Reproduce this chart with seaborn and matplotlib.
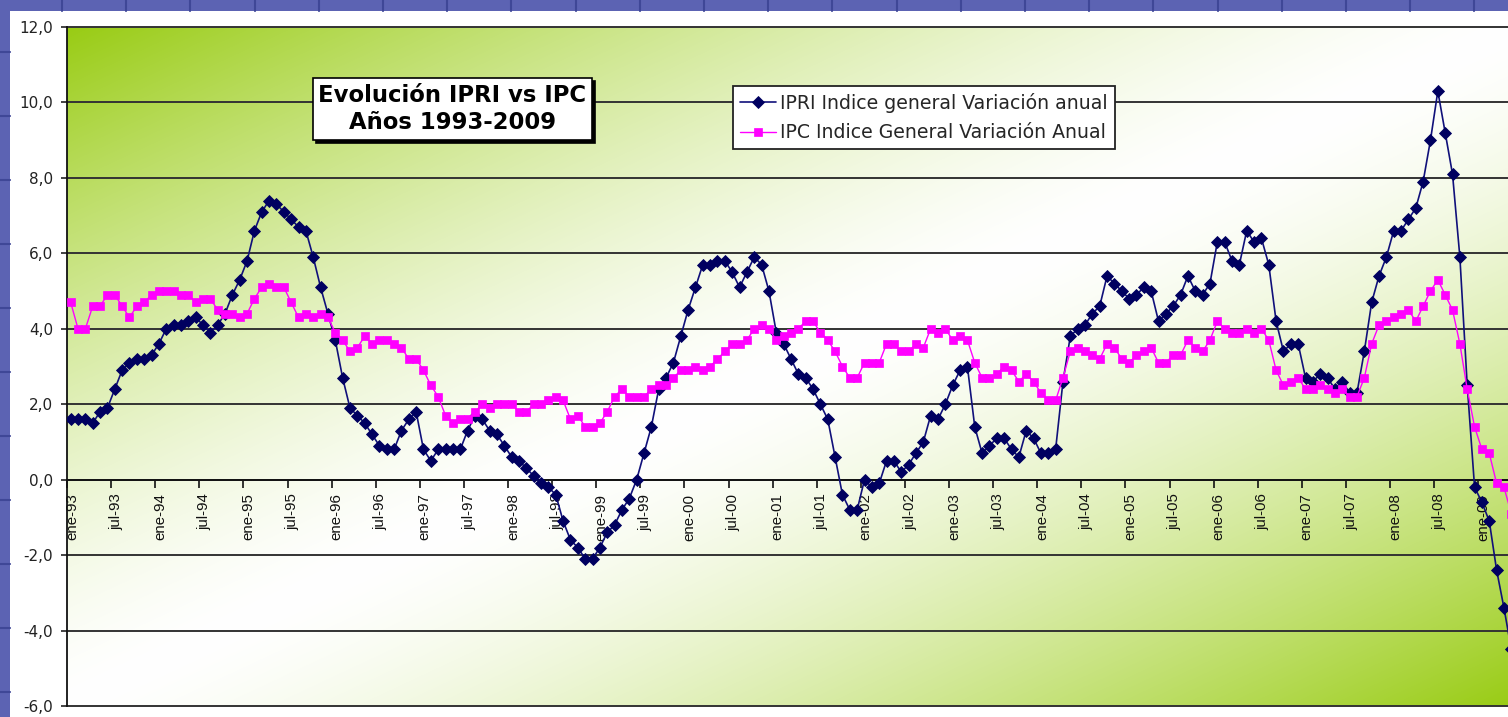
import numpy as np
import pandas as pd
import matplotlib as mpl
mpl.use('Agg')
import matplotlib.pyplot as plt
from matplotlib import transforms
from matplotlib.patches import Rectangle
from matplotlib.lines import Line2D
from matplotlib.ticker import FuncFormatter
import seaborn as sns

### monthly data, ene-93 .. may-09, one line per year
ipri = [
    1.6, 1.6, 1.6, 1.5, 1.8, 1.9, 2.4, 2.9, 3.1, 3.2, 3.2, 3.3,
    3.6, 4.0, 4.1, 4.1, 4.2, 4.3, 4.1, 3.9, 4.1, 4.4, 4.9, 5.3,
    5.8, 6.6, 7.1, 7.4, 7.3, 7.1, 6.9, 6.7, 6.6, 5.9, 5.1, 4.4,
    3.7, 2.7, 1.9, 1.7, 1.5, 1.2, 0.9, 0.8, 0.8, 1.3, 1.6, 1.8,
    0.8, 0.5, 0.8, 0.8, 0.8, 0.8, 1.3, 1.7, 1.6, 1.3, 1.2, 0.9,
    0.6, 0.5, 0.3, 0.1, -0.1, -0.2, -0.4, -1.1, -1.6, -1.8, -2.1, -2.1,
    -1.8, -1.4, -1.2, -0.8, -0.5, 0.0, 0.7, 1.4, 2.4, 2.7, 3.1, 3.8,
    4.5, 5.1, 5.7, 5.7, 5.8, 5.8, 5.5, 5.1, 5.5, 5.9, 5.7, 5.0,
    3.9, 3.6, 3.2, 2.8, 2.7, 2.4, 2.0, 1.6, 0.6, -0.4, -0.8, -0.8,
    0.0, -0.2, -0.1, 0.5, 0.5, 0.2, 0.4, 0.7, 1.0, 1.7, 1.6, 2.0,
    2.5, 2.9, 3.0, 1.4, 0.7, 0.9, 1.1, 1.1, 0.8, 0.6, 1.3, 1.1,
    0.7, 0.7, 0.8, 2.6, 3.8, 4.0, 4.1, 4.4, 4.6, 5.4, 5.2, 5.0,
    4.8, 4.9, 5.1, 5.0, 4.2, 4.4, 4.6, 4.9, 5.4, 5.0, 4.9, 5.2,
    6.3, 6.3, 5.8, 5.7, 6.6, 6.3, 6.4, 5.7, 4.2, 3.4, 3.6, 3.6,
    2.7, 2.6, 2.8, 2.7, 2.4, 2.6, 2.3, 2.3, 3.4, 4.7, 5.4, 5.9,
    6.6, 6.6, 6.9, 7.2, 7.9, 9.0, 10.3, 9.2, 8.1, 5.9, 2.5, -0.2,
    -0.6, -1.1, -2.4, -3.4, -4.5,
]
ipc = [
    4.7, 4.0, 4.0, 4.6, 4.6, 4.9, 4.9, 4.6, 4.3, 4.6, 4.7, 4.9,
    5.0, 5.0, 5.0, 4.9, 4.9, 4.7, 4.8, 4.8, 4.5, 4.4, 4.4, 4.3,
    4.4, 4.8, 5.1, 5.2, 5.1, 5.1, 4.7, 4.3, 4.4, 4.3, 4.4, 4.3,
    3.9, 3.7, 3.4, 3.5, 3.8, 3.6, 3.7, 3.7, 3.6, 3.5, 3.2, 3.2,
    2.9, 2.5, 2.2, 1.7, 1.5, 1.6, 1.6, 1.8, 2.0, 1.9, 2.0, 2.0,
    2.0, 1.8, 1.8, 2.0, 2.0, 2.1, 2.2, 2.1, 1.6, 1.7, 1.4, 1.4,
    1.5, 1.8, 2.2, 2.4, 2.2, 2.2, 2.2, 2.4, 2.5, 2.5, 2.7, 2.9,
    2.9, 3.0, 2.9, 3.0, 3.2, 3.4, 3.6, 3.6, 3.7, 4.0, 4.1, 4.0,
    3.7, 3.8, 3.9, 4.0, 4.2, 4.2, 3.9, 3.7, 3.4, 3.0, 2.7, 2.7,
    3.1, 3.1, 3.1, 3.6, 3.6, 3.4, 3.4, 3.6, 3.5, 4.0, 3.9, 4.0,
    3.7, 3.8, 3.7, 3.1, 2.7, 2.7, 2.8, 3.0, 2.9, 2.6, 2.8, 2.6,
    2.3, 2.1, 2.1, 2.7, 3.4, 3.5, 3.4, 3.3, 3.2, 3.6, 3.5, 3.2,
    3.1, 3.3, 3.4, 3.5, 3.1, 3.1, 3.3, 3.3, 3.7, 3.5, 3.4, 3.7,
    4.2, 4.0, 3.9, 3.9, 4.0, 3.9, 4.0, 3.7, 2.9, 2.5, 2.6, 2.7,
    2.4, 2.4, 2.5, 2.4, 2.3, 2.4, 2.2, 2.2, 2.7, 3.6, 4.1, 4.2,
    4.3, 4.4, 4.5, 4.2, 4.6, 5.0, 5.3, 4.9, 4.5, 3.6, 2.4, 1.4,
    0.8, 0.7, -0.1, -0.2, -0.9,
]
years = list(range(1993, 2010))
half_year_names = ['ene', 'jul']
ipri_label = 'IPRI Indice general Variación anual'
ipc_label = 'IPC Indice General Variación Anual'
title = 'Evolución IPRI vs IPC\nAños 1993-2009'
y_ticks = [-6, -4, -2, 0, 2, 4, 6, 8, 10, 12]

W, H = 1508, 717

def green_gradient(ax, green=(0.60, 0.80, 0.08)):
    # excel style diagonal fill: green corners, white middle
    u = np.linspace(0, 1, 400)[None, :]
    v = np.linspace(0, 1, 200)[:, None]
    w = np.clip(np.abs(u + v - 1.0), 0, 1) ** 1.45
    w = w[..., None]
    img = (1 - w) * np.ones(3) + w * np.array(green)
    ax.imshow(img, extent=(0, 1, 0, 1), transform=ax.transAxes,
              aspect='auto', zorder=0, interpolation='bilinear')


def main():
    df = pd.DataFrame({'pos': np.arange(len(ipri)) + 0.5, 'ipri': ipri, 'ipc': ipc})
    n_cat = len(df)

    sns.set_style('white')
    plt.rcParams['font.family'] = ['DejaVu Sans']

    fig = plt.figure(figsize=(W / 100, H / 100), dpi=100)
    fig.patch.set_facecolor('#5c63b3')
    # white chart area + the slide grid in the blue strips
    fig.add_artist(Rectangle((10 / W, 0), 1, (H - 11) / H, transform=fig.transFigure,
                             facecolor='white', edgecolor='none', zorder=-2))
    for x in np.arange(62, W, 64.2):
        fig.add_artist(Line2D([x / W, x / W], [(H - 11) / H, 1], transform=fig.transFigure,
                              color='#3f4797', lw=1.5, zorder=-1))
    for y in np.arange(52, H, 64):
        fig.add_artist(Line2D([0, 10 / W], [1 - y / H, 1 - y / H], transform=fig.transFigure,
                              color='#3f4797', lw=1.5, zorder=-1))

    ax = fig.add_axes([67 / W, 11 / H, 1448 / W, 679 / H])
    green_gradient(ax)

    sns.lineplot(data=df, x='pos', y='ipri', ax=ax, color='#10107a', linewidth=1.2,
                 marker='D', markersize=6.3, markeredgewidth=0.6, markeredgecolor='#000060',
                 markerfacecolor='#000060', label=ipri_label, zorder=3)
    sns.lineplot(data=df, x='pos', y='ipc', ax=ax, color='#ff00ff', linewidth=1.0,
                 marker='s', markersize=5.2, markeredgewidth=0.5, markeredgecolor='#ff00ff',
                 label=ipc_label, zorder=4)

    ax.set_xlim(0, n_cat)
    ax.set_ylim(-6, 12)
    ax.set_xlabel('')
    ax.set_ylabel('')

    # category axis crosses at 0 (do this before tick labels, it resets the ticks)
    for s in ['top', 'right']:
        ax.spines[s].set_visible(False)
    ax.spines['bottom'].set_position(('data', 0))
    ax.spines['bottom'].set_color('#111111')
    ax.spines['bottom'].set_linewidth(1.3)
    ax.spines['left'].set_color('#111111')
    ax.spines['left'].set_linewidth(1.3)

    ticks = list(range(0, n_cat, 6))
    tick_labels = ['%s-%02d' % (m, y % 100) for y in years for m in half_year_names]
    ax.set_xticks(ticks)
    ax.set_xticklabels(tick_labels[:len(ticks)], family='Liberation Sans', fontsize=10.8)
    ax.set_yticks(y_ticks)
    ax.yaxis.set_major_formatter(FuncFormatter(lambda v, p: ('%.1f' % v).replace('.', ',')))
    ax.tick_params(axis='y', labelsize=11, colors='#222222', length=4, width=1.2,
                   direction='out', pad=6, left=True)
    ax.tick_params(axis='x', length=6, width=1.2, direction='out', pad=4, bottom=True,
                   colors='#111111', labelrotation=90)
    # excel puts the label a bit right of the tick
    shift = transforms.ScaledTranslation(5 / 100, 0, fig.dpi_scale_trans)
    for lbl in ax.get_xticklabels():
        lbl.set_transform(lbl.get_transform() + shift)

    ax.yaxis.grid(True, color='#333333', linewidth=1.4)
    ax.xaxis.grid(False)
    for gl in ax.get_ygridlines():
        gl.set_clip_on(False)

    leg = ax.legend(loc='upper left', bbox_to_anchor=((733 - 67) / 1448, (706 - 86) / 679),
                    borderaxespad=0, frameon=True, fancybox=False, framealpha=1,
                    edgecolor='#222222', prop={'family': 'DejaVu Sans', 'size': 13.6},
                    handlelength=1.9, handletextpad=0.25, labelspacing=0.55, borderpad=0.36)
    leg.get_frame().set_linewidth(1.3)
    leg.set_zorder(10)

    tx, ty = (452.5 - 67) / 1448, (706 - 109) / 679
    shadow = transforms.offset_copy(ax.transAxes, fig=fig, x=3, y=-3, units='dots')
    for tr, fc, z in [(shadow, 'black', 9), (ax.transAxes, 'white', 10)]:
        ax.text(tx, ty, title, transform=tr, ha='center', va='center', ma='center',
                fontsize=16.4, fontweight='bold', family='DejaVu Sans', linespacing=1.25,
                color='black', zorder=z,
                bbox=dict(boxstyle='square,pad=0.25', fc=fc, ec='black', lw=1.2))

    fig.savefig('out.png', dpi=100, facecolor=fig.get_facecolor())


if __name__ == "__main__":
    main()
